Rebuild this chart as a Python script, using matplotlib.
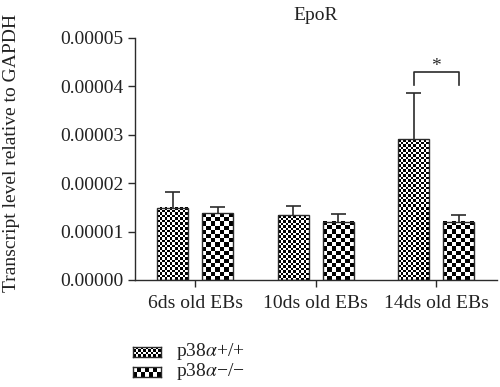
import numpy as np
import matplotlib
matplotlib.use("Agg")
import matplotlib.pyplot as plt
from matplotlib.colors import ListedColormap
from matplotlib.ticker import FormatStrFormatter

plt.rcParams['font.family'] = ['Liberation Serif', 'DejaVu Serif']
plt.rcParams['mathtext.fontset'] = 'stix'

## data
groups = ["6ds old EBs", "10ds old EBs", "14ds old EBs"]
series = ["p38$\\alpha$+/+", "p38$\\alpha$\u2212/\u2212"]
wt_mean = [1.49e-5, 1.34e-5, 2.91e-5]
wt_err = [0.33e-5, 0.19e-5, 0.95e-5]
ko_mean = [1.38e-5, 1.20e-5, 1.20e-5]
ko_err = [0.13e-5, 0.16e-5, 0.14e-5]
yticks = [0, 1e-5, 2e-5, 3e-5, 4e-5, 5e-5]

ink = '#2b2b2b'
bw = ListedColormap(['white', 'black'])

fig = plt.figure(figsize=(5, 3.87), dpi=100)
ax = fig.add_axes([0.27, 0.2765, 0.723, 0.6255])
ax.set_xlim(-0.5, 2.5)
ax.set_ylim(0, 5e-5)


def board(nx, ny):
    return np.add.outer(np.arange(ny), np.arange(nx)) % 2


def checker_bar(ax, xc, width, top, cell):
    x0, x1 = xc - width / 2, xc + width / 2
    (px0, py0) = ax.transData.transform((x0, 0))
    (px1, py1) = ax.transData.transform((x1, top))
    nx = max(1, int(round((px1 - px0) / cell)))
    ny = max(1, int(round((py1 - py0) / cell)))
    ax.imshow(board(nx, ny), cmap=bw, extent=(x0, x1, 0, top), origin='lower',
              interpolation='nearest', aspect='auto', zorder=2)
    ax.bar(xc, top, width, fill=False, edgecolor=ink, linewidth=1.0, zorder=3)


def err_bar(ax, xc, top, err, cw=0.062):
    ax.vlines(xc, top, top + err, color=ink, linewidth=1.2, zorder=4)
    ax.hlines(top + err, xc - cw, xc + cw, color=ink, linewidth=1.2, zorder=4)


x = np.arange(len(groups))
w = 0.257
off = 0.187
cells = [2.5, 4.2]
for i in range(len(groups)):
    checker_bar(ax, x[i] - off, w, wt_mean[i], cells[0])
    err_bar(ax, x[i] - off, wt_mean[i], wt_err[i])
    checker_bar(ax, x[i] + off, w, ko_mean[i], cells[1])
    err_bar(ax, x[i] + off, ko_mean[i], ko_err[i])

ax.set_xlim(-0.5, 2.5)
ax.set_ylim(0, 5e-5)

## significance bracket on 14ds
xl, xr = x[2] - off, x[2] + off
ax.plot([xl, xl, xr, xr], [4.03e-5, 4.3e-5, 4.3e-5, 4.03e-5], color=ink, linewidth=1.2,
        clip_on=False)
ax.text(x[2], 4.42e-5, "*", ha='center', va='center', fontsize=14, color=ink)

ax.set_xticks(x)
ax.set_xticklabels(groups, fontsize=14)
ax.set_yticks(yticks)
ax.yaxis.set_major_formatter(FormatStrFormatter('%.5f'))
ax.tick_params(axis='y', labelsize=14, direction='out', length=5, width=1, colors=ink,
               labelcolor='#222222')
ax.tick_params(axis='x', direction='out', length=5, width=1, colors=ink,
               labelcolor='#222222', pad=6)
for s in ['top', 'right']:
    ax.spines[s].set_visible(False)
for s in ['left', 'bottom']:
    ax.spines[s].set_color(ink)
    ax.spines[s].set_linewidth(1.0)

ax.set_title("EpoR", fontsize=14, pad=13, color='#222222')
fig.text(0.024, 1 - 153 / 387, "Transcript level relative to GAPDH", rotation=90,
         ha='center', va='center', fontsize=14, color='#222222')

## legend swatches
rows = [352, 372]
for j, lab in enumerate(series):
    sw = fig.add_axes([133 / 500, 1 - (rows[j] + 5) / 387, 28 / 500, 10 / 387])
    nx = int(round(28 / cells[j]))
    ny = int(round(10 / cells[j]))
    sw.imshow(board(nx, ny), cmap=bw, interpolation='nearest', aspect='auto')
    sw.set_xticks([])
    sw.set_yticks([])
    for s in sw.spines.values():
        s.set_color(ink)
        s.set_linewidth(1.0)
    fig.text(176 / 500, 1 - rows[j] / 387, lab, ha='left', va='center', fontsize=14,
             color='#222222')

fig.savefig("out.png", dpi=100)
